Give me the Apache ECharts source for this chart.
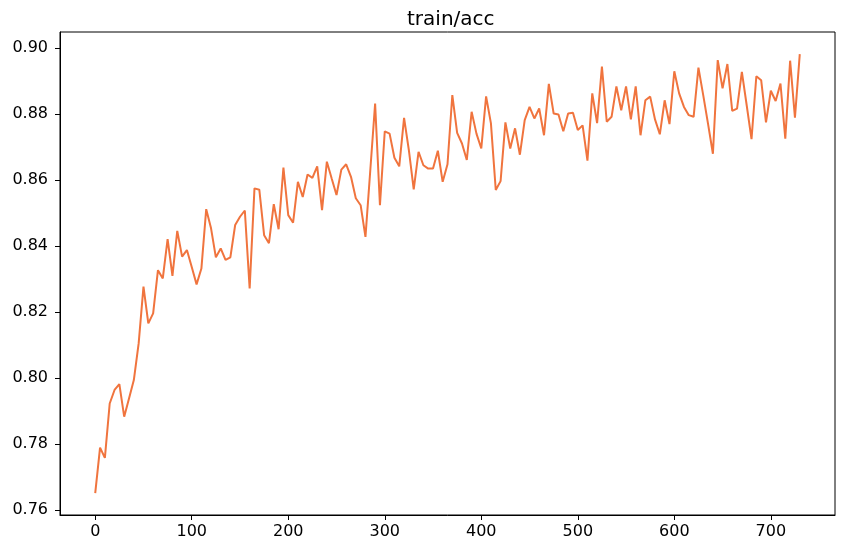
<!DOCTYPE html>
<html>
<head>
<meta charset="utf-8">
<script src="https://cdn.jsdelivr.net/npm/echarts@6/dist/echarts.min.js"></script>
<style>html,body{margin:0;padding:0;background:#fff}#c{width:847px;height:550px}</style>
</head>
<body>
<div id="c"></div>
<script>
const TITLE = 'train/acc';
const X_TICKS = [0, 100, 200, 300, 400, 500, 600, 700];
const Y_TICKS = [0.76, 0.78, 0.80, 0.82, 0.84, 0.86, 0.88, 0.90];
const STEPS = [
  0,5,10,15,20,25,30,35,40,45,50,55,60,65,70,75,80,85,90,95,
  100,105,110,115,120,125,130,135,140,145,150,155,160,165,170,175,180,185,190,195,
  200,205,210,215,220,225,230,235,240,245,250,255,260,265,270,275,280,285,290,295,
  300,305,310,315,320,325,330,335,340,345,350,355,360,365,370,375,380,385,390,395,
  400,405,410,415,420,425,430,435,440,445,450,455,460,465,470,475,480,485,490,495,
  500,505,510,515,520,525,530,535,540,545,550,555,560,565,570,575,580,585,590,595,
  600,605,610,615,620,625,630,635,640,645,650,655,660,665,670,675,680,685,690,695,
  700,705,710,715,720,725,730
];
const ACC = [
  0.7651,0.7789,0.7758,0.7923,0.7964,0.7982,0.7883,0.7938,0.7994,0.8105,
  0.8277,0.8166,0.8196,0.8327,0.8302,0.8421,0.8310,0.8446,0.8368,0.8388,
  0.8337,0.8284,0.8332,0.8512,0.8454,0.8366,0.8393,0.8358,0.8366,0.8464,
  0.8489,0.8508,0.8272,0.8575,0.8571,0.8433,0.8409,0.8527,0.8451,0.8638,
  0.8494,0.8471,0.8595,0.8549,0.8617,0.8607,0.8642,0.8509,0.8656,0.8605,
  0.8555,0.8632,0.8648,0.8610,0.8545,0.8524,0.8428,0.8630,0.8832,0.8524,
  0.8748,0.8741,0.8668,0.8642,0.8789,0.8690,0.8572,0.8686,0.8645,0.8635,
  0.8635,0.8689,0.8595,0.8648,0.8858,0.8743,0.8711,0.8661,0.8807,0.8741,
  0.8696,0.8854,0.8772,0.8570,0.8597,0.8775,0.8696,0.8757,0.8677,0.8782,
  0.8822,0.8787,0.8817,0.8736,0.8892,0.8802,0.8799,0.8748,0.8802,0.8804,
  0.8752,0.8766,0.8659,0.8863,0.8773,0.8944,0.8777,0.8792,0.8884,0.8812,
  0.8884,0.8784,0.8884,0.8736,0.8842,0.8853,0.8784,0.8739,0.8842,0.8770,
  0.8930,0.8863,0.8822,0.8797,0.8792,0.8941,0.8857,0.8770,0.8680,0.8964,
  0.8878,0.8952,0.8810,0.8817,0.8928,0.8827,0.8724,0.8915,0.8903,0.8775,
  0.8871,0.8840,0.8893,0.8726,0.8962,0.8789,0.8982
];

const data = STEPS.map((s, i) => [s, ACC[i]]);
const FONT = 'DejaVu Sans';
const chart = echarts.init(document.getElementById('c'), null, {renderer: 'canvas'});
chart.setOption({
  animation: false,
  backgroundColor: '#ffffff',
  title: {
    text: TITLE,
    left: 402,
    top: 5,
    textStyle: {fontFamily: FONT, fontSize: 20, fontWeight: 'normal', color: '#000'}
  },
  grid: {
    left: 60, right: 12, top: 32, bottom: 35,
    show: true, borderColor: '#000', borderWidth: 1, backgroundColor: 'transparent',
    containLabel: false
  },
  xAxis: {
    type: 'value',
    min: -36.5, max: 766.5,
    splitLine: {show: false},
    axisLine: {show: true, onZero: false, lineStyle: {color: '#000', width: 1}},
    axisTick: {show: true, inside: false, length: 5, customValues: X_TICKS, lineStyle: {color: '#000'}},
    axisLabel: {show: true, margin: 9, customValues: X_TICKS, fontFamily: FONT, fontSize: 16, color: '#000',
      formatter: v => String(v)}
  },
  yAxis: {
    type: 'value',
    min: 0.7585, max: 0.9049,
    splitLine: {show: false},
    axisLine: {show: true, onZero: false, lineStyle: {color: '#000', width: 1}},
    axisTick: {show: true, inside: false, length: 5, customValues: Y_TICKS, lineStyle: {color: '#000'}},
    axisLabel: {show: true, margin: 12, customValues: Y_TICKS, fontFamily: FONT, fontSize: 16, color: '#000',
      formatter: v => v.toFixed(2)}
  },
  series: [{
    type: 'line',
    data: data,
    showSymbol: false,
    symbol: 'none',
    lineStyle: {color: '#f0743e', width: 2},
    itemStyle: {color: '#f0743e'}
  }]
});
</script>
</body>
</html>
